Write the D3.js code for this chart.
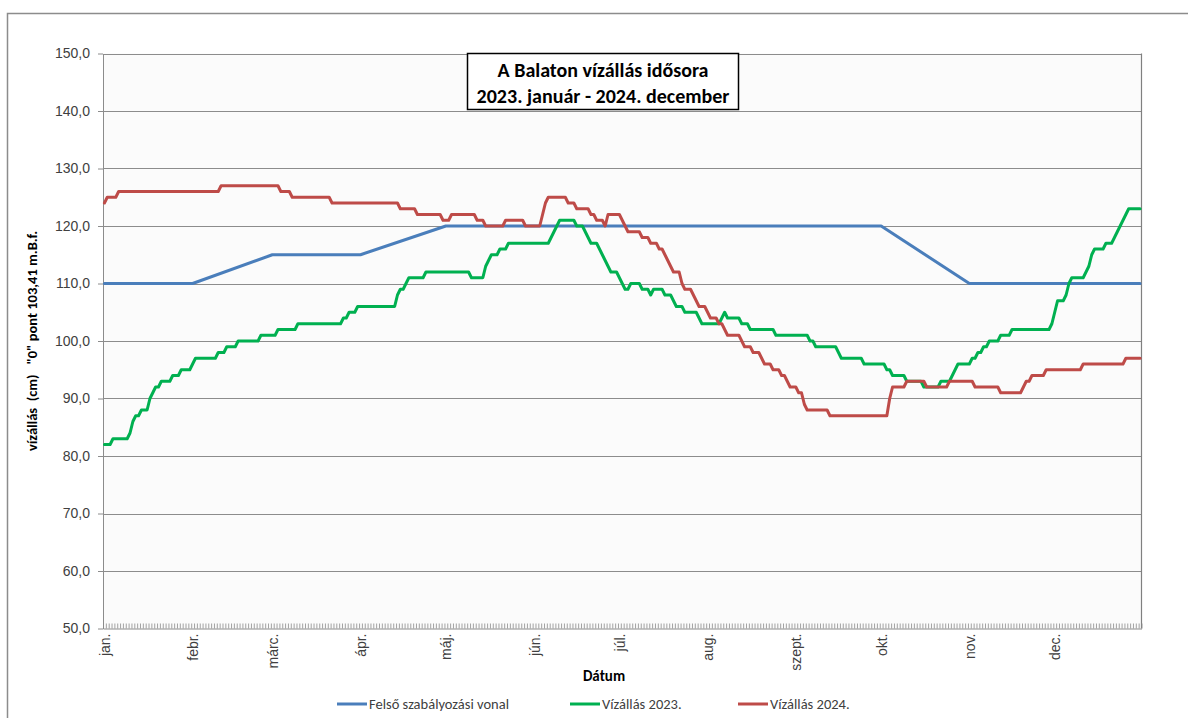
<!DOCTYPE html>
<html lang="hu">
<head>
<meta charset="utf-8">
<script src="https://cdn.jsdelivr.net/npm/d3@7"></script>
<style>
  html, body { margin: 0; padding: 0; background: #ffffff; }
  svg { display: block; font-family: Carlito, Lato, "Open Sans", sans-serif; }
  text { white-space: pre; }
</style>
</head>
<body>
<svg id="chart" width="1188" height="718"></svg>
<script>
// Month labels and the day-of-year each month starts on
const monthLabels = ["jan.", "febr.", "márc.", "ápr.", "máj.", "jún.", "júl.", "aug.", "szept.", "okt.", "nov.", "dec."];
const monthStarts = [0, 31, 59, 90, 120, 151, 181, 212, 243, 273, 304, 334];

// Y axis tick values (cm)
const yTicks = [50, 60, 70, 80, 90, 100, 110, 120, 130, 140, 150];

// Upper regulation level: [day of year, cm] vertices
const regulationLine = [[0, 110], [31, 110], [59, 115], [90, 115], [120, 120], [273, 120], [304, 110], [364, 110]];

// Daily water level 2023, as [first day, cm] runs
const level2023 = [
  [0, 82], [3, 83], [9, 84], [10, 86], [11, 87], [13, 88], [16, 90], [17, 91], [18, 92], [20, 93],
  [24, 94], [27, 95], [31, 96], [32, 97], [40, 98], [43, 99], [47, 100], [55, 101], [61, 102], [68, 103],
  [84, 104], [86, 105], [89, 106], [103, 108], [104, 109], [106, 110], [107, 111], [113, 112], [129, 111],
  [134, 113], [135, 114], [136, 115], [139, 116], [142, 117], [157, 118], [158, 119], [159, 120], [160, 121],
  [166, 120], [169, 119], [170, 118], [171, 117], [174, 116], [175, 115], [176, 114], [177, 113], [178, 112],
  [181, 111], [182, 110], [183, 109], [185, 110], [189, 109], [192, 108], [193, 109], [197, 108], [200, 107],
  [201, 106], [204, 105], [209, 104], [210, 103], [217, 104], [218, 105], [219, 104], [224, 103], [227, 102],
  [236, 101], [248, 100], [250, 99], [258, 98], [259, 97], [267, 96], [275, 95], [277, 94], [282, 93],
  [288, 92], [294, 93], [298, 94], [299, 95], [300, 96], [305, 97], [307, 98], [309, 99], [311, 100],
  [315, 101], [319, 102], [333, 103], [334, 105], [335, 107], [338, 108], [339, 110], [340, 111], [345, 112],
  [346, 113], [347, 115], [348, 116], [352, 117], [355, 118], [356, 119], [357, 120], [358, 121], [359, 122],
  [360, 123]
];

// Daily water level 2024, as [first day, cm] runs
const level2024 = [
  [0, 124], [1, 125], [5, 126], [41, 127], [62, 126], [66, 125], [80, 124], [104, 123], [110, 122], [119, 121],
  [122, 122], [131, 121], [134, 120], [141, 121], [148, 120], [154, 122], [155, 124], [156, 125], [163, 124],
  [166, 123], [171, 122], [173, 121], [176, 120], [177, 122], [182, 121], [183, 120], [184, 119], [189, 118],
  [192, 117], [195, 116], [197, 115], [198, 114], [199, 113], [200, 112], [203, 110], [204, 109], [207, 108],
  [208, 107], [209, 106], [212, 105], [213, 104], [216, 103], [218, 102], [219, 101], [224, 100], [225, 99],
  [228, 98], [231, 97], [232, 96], [235, 95], [238, 94], [240, 93], [241, 92], [244, 91], [246, 89], [247, 88],
  [255, 87], [276, 90], [277, 92], [282, 93], [289, 92], [297, 93], [306, 92], [315, 91], [323, 92], [324, 93],
  [326, 94], [331, 95], [344, 96], [359, 97]
];

const seriesNames = ["Felső szabályozási vonal", "Vízállás 2023.", "Vízállás 2024."];
const seriesColors = ["#4a7ebb", "#00b050", "#be4b48"];

const DAYS = 365;

// Expand [first day, value] runs into one point per day
function expandRuns(runs) {
  const out = [];
  let k = 0;
  for (let d = 0; d < DAYS; d++) {
    while (k + 1 < runs.length && runs[k + 1][0] <= d) k++;
    out.push([d, runs[k][1]]);
  }
  return out;
}

const svg = d3.select("#chart");
const plot = { left: 103, right: 1141.5, top: 53.5, bottom: 628.5 };

const x = d3.scaleLinear().domain([0, DAYS]).range([plot.left, plot.right]);
const y = d3.scaleLinear().domain([50, 150]).range([plot.bottom, plot.top]);
const xc = d => x(d + 0.5);

// Outer chart frame
svg.append("rect")
  .attr("x", 7.5).attr("y", 13.5)
  .attr("width", 1300).attr("height", 800)
  .attr("fill", "#ffffff").attr("stroke", "#8c8c8c").attr("stroke-width", 1.5);

// Plot background
svg.append("rect")
  .attr("x", plot.left).attr("y", plot.top)
  .attr("width", plot.right - plot.left).attr("height", plot.bottom - plot.top)
  .attr("fill", "#fbfbfb");

// Horizontal gridlines
svg.append("g")
  .selectAll("line")
  .data(yTicks.filter(v => v > 50))
  .join("line")
  .attr("x1", plot.left).attr("x2", plot.right)
  .attr("y1", d => Math.round(y(d)) + 0.5).attr("y2", d => Math.round(y(d)) + 0.5)
  .attr("stroke", "#8c8c8c").attr("stroke-width", 1);

// Right border of the plot area
svg.append("line")
  .attr("x1", plot.right).attr("x2", plot.right)
  .attr("y1", plot.top).attr("y2", plot.bottom)
  .attr("stroke", "#808080").attr("stroke-width", 1.2);

// Y axis
const yAxis = svg.append("g")
  .attr("transform", `translate(${plot.left},0)`)
  .call(d3.axisLeft(y).tickValues(yTicks).tickSize(5).tickSizeOuter(0).tickPadding(8)
    .tickFormat(v => v.toFixed(1).replace(".", ",")));
yAxis.selectAll("path, line").attr("stroke", "#8c8c8c");
yAxis.selectAll("text").attr("fill", "#404040").style("font-size", "14px");

// X axis: a small tick for every day
const xAxis = svg.append("g")
  .attr("transform", `translate(0,${plot.bottom})`)
  .call(d3.axisBottom(x).tickValues(d3.range(0, DAYS + 1)).tickSize(-5).tickSizeOuter(0).tickFormat(""));
xAxis.selectAll("path, line").attr("stroke", "#8c8c8c").attr("stroke-width", 0.8);
xAxis.select("path").attr("stroke-width", 1.2);

// Month labels along the x axis
const monthAxis = svg.append("g")
  .attr("transform", `translate(0,${plot.bottom})`)
  .call(d3.axisBottom(x).tickValues(monthStarts.map(d => d + 0.5)).tickSize(0)
    .tickFormat((d, i) => monthLabels[i]));
monthAxis.select("path").remove();
monthAxis.selectAll("text")
  .attr("fill", "#404040").style("font-size", "14px")
  .attr("text-anchor", "end")
  .attr("x", 0).attr("y", 0).attr("dy", "0.36em")
  .attr("transform", "translate(0,5) rotate(-90)");

// Series lines
const line = d3.line().x(d => xc(d[0])).y(d => y(d[1]));
const seriesData = [regulationLine, expandRuns(level2023), expandRuns(level2024)];
svg.append("g")
  .selectAll("path")
  .data(seriesData)
  .join("path")
  .attr("d", line)
  .attr("fill", "none")
  .attr("stroke", (d, i) => seriesColors[i])
  .attr("stroke-width", 3)
  .attr("stroke-linejoin", "round")
  .attr("stroke-linecap", "round");

// Title box
const title = svg.append("g");
title.append("rect")
  .attr("x", 467.5).attr("y", 53.5).attr("width", 271).attr("height", 56)
  .attr("fill", "#ffffff").attr("stroke", "#000000").attr("stroke-width", 1.5);
title.append("text")
  .attr("x", 603).attr("y", 77).attr("text-anchor", "middle")
  .style("font-size", "20px").style("font-weight", "bold").attr("fill", "#000000")
  .text("A Balaton vízállás idősora");
title.append("text")
  .attr("x", 603).attr("y", 102.5).attr("text-anchor", "middle")
  .style("font-size", "20px").style("font-weight", "bold").attr("fill", "#000000")
  .text("2023. január - 2024. december");

// Axis titles
svg.append("text")
  .attr("transform", `translate(37,${(plot.top + plot.bottom) / 2}) rotate(-90)`)
  .attr("text-anchor", "middle")
  .style("font-size", "14.5px").style("font-weight", "bold").attr("fill", "#000000")
  .text('vízállás  (cm)   "0" pont 103,41 m.B.f.');

svg.append("text")
  .attr("x", 604).attr("y", 681).attr("text-anchor", "middle")
  .style("font-size", "15px").style("font-weight", "bold").attr("fill", "#000000")
  .text("Dátum");

// Legend
const legendX = [337, 570, 738];
const legend = svg.append("g")
  .selectAll("g")
  .data(seriesNames)
  .join("g")
  .attr("transform", (d, i) => `translate(${legendX[i]},704)`);
legend.append("line")
  .attr("x1", 0).attr("x2", 30).attr("y1", 0).attr("y2", 0)
  .attr("stroke", (d, i) => seriesColors[i]).attr("stroke-width", 3);
legend.append("text")
  .attr("x", 32).attr("y", 0).attr("dy", "0.35em")
  .style("font-size", "14.5px").attr("fill", "#404040")
  .text(d => d);
</script>
</body>
</html>
